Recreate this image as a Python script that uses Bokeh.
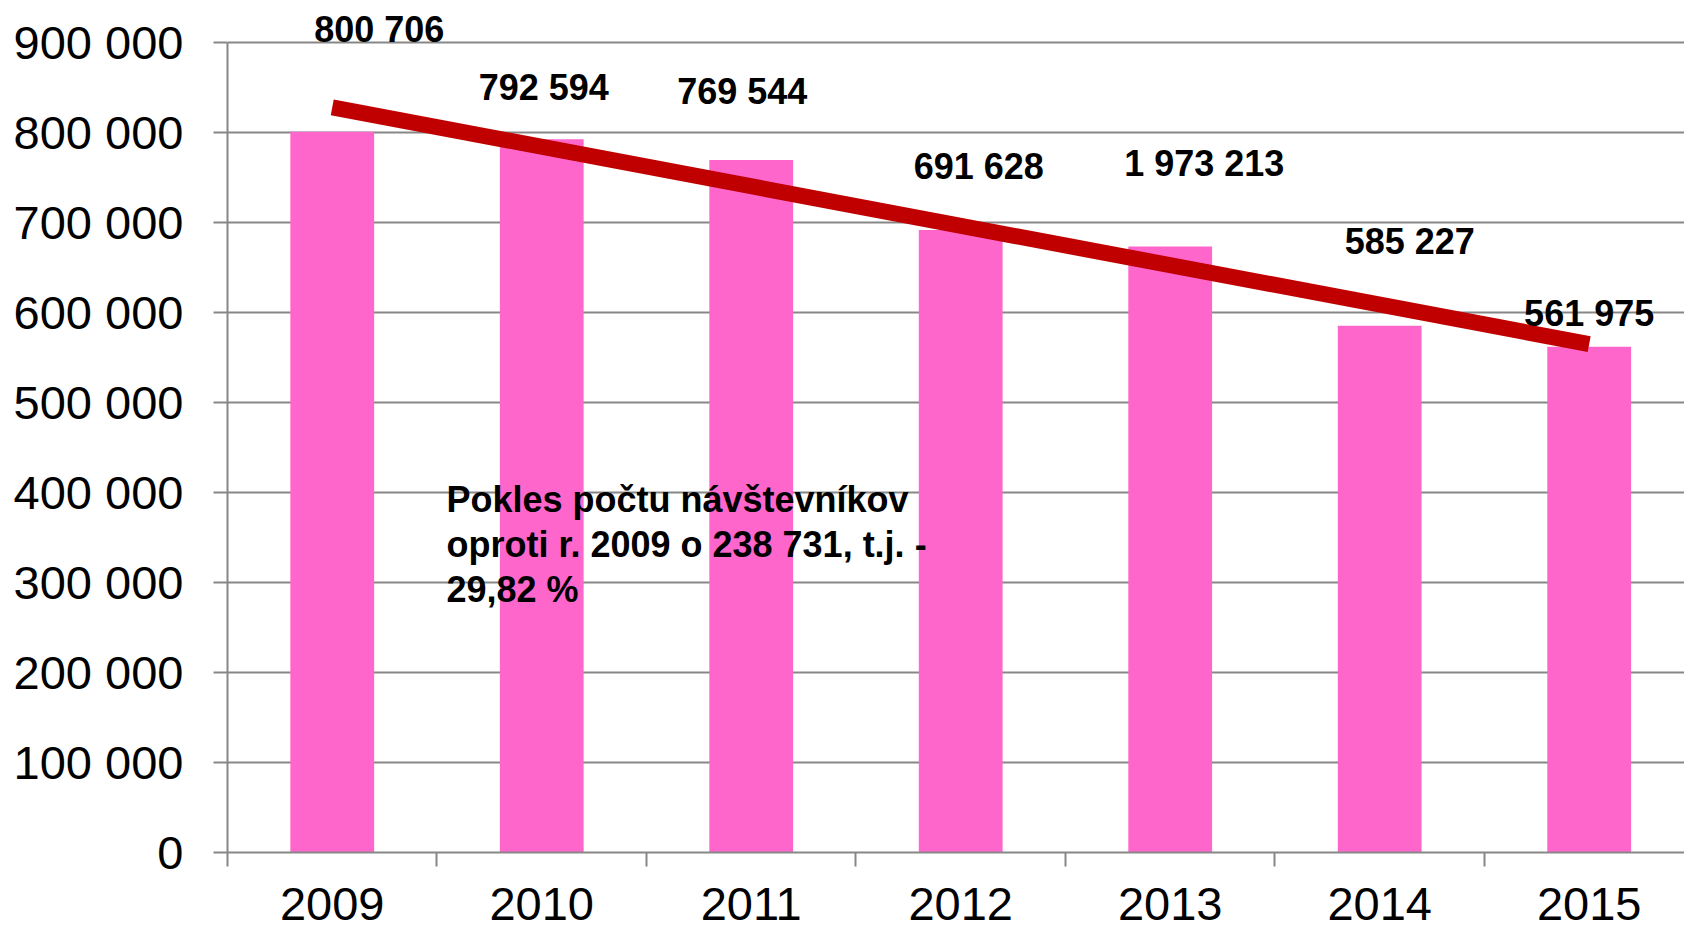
import numpy as np
from bokeh.plotting import figure
from bokeh.models import Range1d, FixedTicker, ColumnDataSource
from bokeh.core.properties import value
from bokeh.embed import file_html
from bokeh.resources import INLINE

# ---- data ----
years = ["2009", "2010", "2011", "2012", "2013", "2014", "2015"]
visitors = [800706, 792594, 769544, 691628, 673213, 585227, 561975]
value_labels = ["800 706", "792 594", "769 544", "691 628", "1 973 213", "585 227", "561 975"]
y_ticks = [0, 100000, 200000, 300000, 400000, 500000, 600000, 700000, 800000, 900000]
y_tick_labels = ["0", "100 000", "200 000", "300 000", "400 000", "500 000",
                 "600 000", "700 000", "800 000", "900 000"]
note_text = "Pokles počtu návštevníkov\noproti r. 2009 o 238 731, t.j. -\n29,82 %"

# ---- styles (pixel offsets of the value labels) ----
label_dx = [47, 2, -9, 18, 34, 30, 0]
label_dy = [-102, -52, -68, -64, -83, -84, -33]

FONT = "Liberation Sans"
GRID = "#878787"
PINK = "#FF66CC"
RED = "#C00000"

n = len(years)
xc = [i + 0.5 for i in range(n)]

p = figure(width=1684, height=930, output_backend="svg", toolbar_location=None,
           x_range=Range1d(0, 6.955), y_range=Range1d(0, 946667),
           min_border_left=227, min_border_right=0, min_border_top=0,
           min_border_bottom=78)
p.outline_line_color = None
p.background_fill_color = "white"
p.border_fill_color = "white"

src = ColumnDataSource(dict(x=xc, top=visitors, lab=value_labels, dx=label_dx, dy=label_dy))
p.vbar(x="x", top="top", width=0.4, bottom=0, source=src, fill_color=PINK, line_color=None)

# linear trend line
coef = np.polyfit(np.arange(n), np.array(visitors, dtype=float), 1)
tx = [xc[0], xc[-1]]
ty = [coef[1] + coef[0] * 0, coef[1] + coef[0] * (n - 1)]
p.line(tx, ty, line_color=RED, line_width=16, line_cap="butt")

p.text(x="x", y="top", text="lab", x_offset="dx", y_offset="dy", source=src,
       text_font=value(FONT), text_font_style="bold", text_font_size="36px",
       text_align="center", text_baseline="middle", text_color="black")

p.text(x=[1.045], y=[415500], text=[note_text], text_font=value(FONT),
       text_font_style="bold", text_font_size="36px", text_align="left",
       text_baseline="top", text_line_height=1.1, text_color="black")

# y axis
ya = p.yaxis[0]
ya.ticker = FixedTicker(ticks=y_ticks, minor_ticks=[])
ya.major_label_overrides = {t: l for t, l in zip(y_ticks, y_tick_labels)}
ya.bounds = (0, 900000)
ya.axis_line_color = GRID
ya.axis_line_width = 2
ya.major_tick_line_color = GRID
ya.major_tick_line_width = 2
ya.major_tick_out = 14
ya.major_tick_in = 0
ya.major_label_standoff = 30
ya.major_label_text_font = FONT
ya.major_label_text_font_size = "47px"
ya.major_label_text_color = "black"

# x axis
xa = p.xaxis[0]
xa.ticker = FixedTicker(ticks=xc, minor_ticks=list(range(n + 1)))
xa.major_label_overrides = {c: y for c, y in zip(xc, years)}
xa.axis_line_color = GRID
xa.axis_line_width = 2
xa.major_tick_line_color = None
xa.major_tick_out = 0
xa.major_tick_in = 0
xa.minor_tick_line_color = GRID
xa.minor_tick_line_width = 2
xa.minor_tick_out = 14
xa.minor_tick_in = 0
xa.major_label_standoff = 21
xa.major_label_text_font = FONT
xa.major_label_text_font_size = "47px"
xa.major_label_text_color = "black"

p.xgrid.grid_line_color = None
p.ygrid.ticker = FixedTicker(ticks=y_ticks)
p.ygrid.grid_line_color = GRID
p.ygrid.grid_line_width = 2

open("out.html", "w").write(file_html(p, INLINE))
